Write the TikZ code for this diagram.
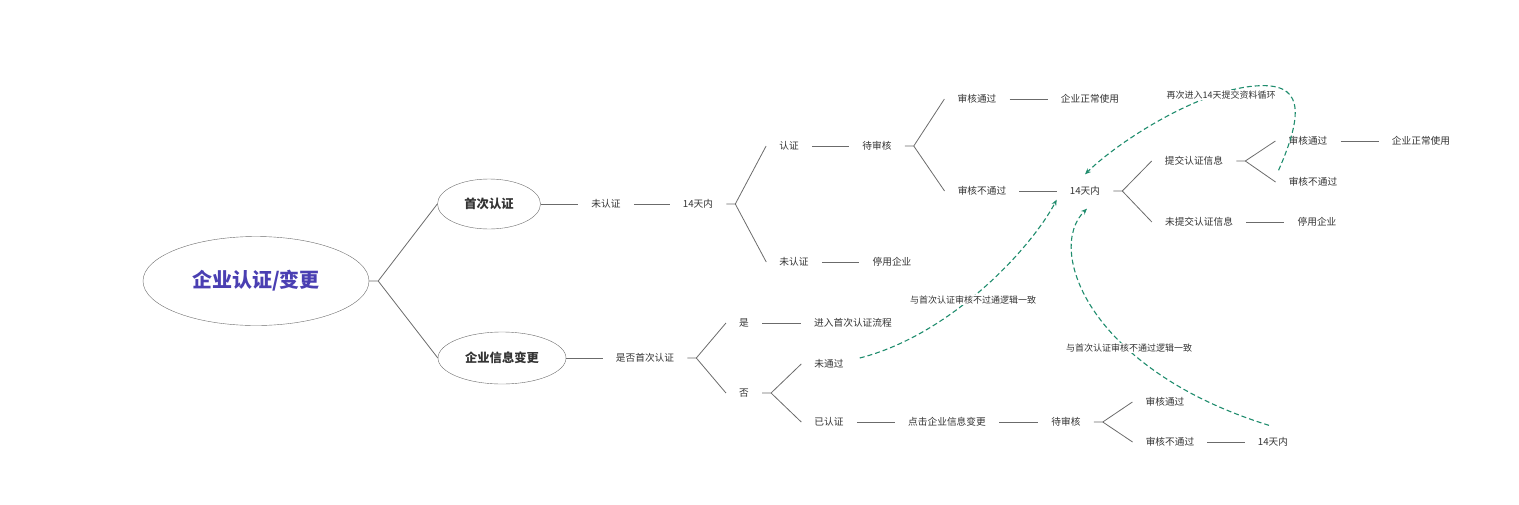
\documentclass[tikz,border=0pt]{standalone}
\usepackage{fontspec}
\setmainfont{Noto Sans CJK SC}
\usetikzlibrary{shapes.geometric, arrows.meta}
\definecolor{edge}{HTML}{6B6B6B}
\definecolor{ink}{HTML}{333333}
\definecolor{flow}{HTML}{1F8C6D}
\definecolor{title}{HTML}{4A3FB2}
\begin{document}
\begin{tikzpicture}[x=1pt, y=-1pt,
    txt/.style={inner xsep=13pt, inner ysep=3pt, text=ink, font=\fontsize{9.7}{11}\selectfont},
    topic/.style={draw=edge, ellipse, inner sep=0pt, text=ink, font=\fontsize{12.3}{14}\selectfont\bfseries},
    tie/.style={draw=edge, line width=0.8pt},
    back/.style={draw=flow, line width=1.1pt, dash pattern=on 5pt off 3pt, -{Stealth[length=6pt, width=5pt]}},
    remark/.style={fill=white, inner sep=1pt, text=ink, font=\fontsize{9}{10}\selectfont}]
    \useasboundingbox (0,0) rectangle (1519,504);
    \node[topic, minimum width=226pt, minimum height=89pt, text=title, font=\fontsize{20}{24}\selectfont\bfseries] (root) at (256,281) {企业认证/变更};
    \node[topic, minimum width=103pt, minimum height=50pt] (first) at (489,204) {首次认证};
    \node[topic, minimum width=128pt, minimum height=52pt] (change) at (502,358) {企业信息变更};
    \node[txt] (a1) at (606,204) {未认证};
    \node[txt] (a2) at (698,204) {14天内};
    \node[txt] (b1) at (789,146) {认证};
    \node[txt] (b2) at (877,146) {待审核};
    \node[txt] (b3) at (794,262) {未认证};
    \node[txt] (b4) at (892,262) {停用企业};
    \node[txt] (c1) at (977,99) {审核通过};
    \node[txt] (c2) at (1090,99) {企业正常使用};
    \node[txt] (c3) at (982,191) {审核不通过};
    \node[txt] (c4) at (1085,191) {14天内};
    \node[txt] (d1) at (1194,161) {提交认证信息};
    \node[txt] (d2) at (1199,222) {未提交认证信息};
    \node[txt] (d3) at (1317,222) {停用企业};
    \node[txt] (e1) at (1308,141) {审核通过};
    \node[txt] (e2) at (1421,141) {企业正常使用};
    \node[txt] (e3) at (1313,182) {审核不通过};
    \node[txt] (g1) at (645,358) {是否首次认证};
    \node[txt] (h1) at (744,323) {是};
    \node[txt] (h2) at (853,323) {进入首次认证流程};
    \node[txt] (h3) at (744,393) {否};
    \node[txt] (i1) at (829,364) {未通过};
    \node[txt] (i2) at (829,422) {已认证};
    \node[txt] (i3) at (947,422) {点击企业信息变更};
    \node[txt] (i4) at (1066,422) {待审核};
    \node[txt] (j1) at (1165,402) {审核通过};
    \node[txt] (j2) at (1170,442) {审核不通过};
    \node[txt] (j3) at (1273,442) {14天内};
    \draw[tie] (root.east) -- ++(9,0) coordinate (f0) -- (first.west);
    \draw[tie] (f0) -- (change.west);
    \draw[tie] (first.east) -- (a1.west);
    \draw[tie] (a1.east) -- (a2.west);
    \draw[tie] (a2.east) -- ++(9,0) coordinate (f1) -- (b1.west);
    \draw[tie] (f1) -- (b3.west);
    \draw[tie] (b1.east) -- (b2.west);
    \draw[tie] (b3.east) -- (b4.west);
    \draw[tie] (b2.east) -- ++(9,0) coordinate (f2) -- (c1.west);
    \draw[tie] (f2) -- (c3.west);
    \draw[tie] (c1.east) -- (c2.west);
    \draw[tie] (c3.east) -- (c4.west);
    \draw[tie] (c4.east) -- ++(9,0) coordinate (f3) -- (d1.west);
    \draw[tie] (f3) -- (d2.west);
    \draw[tie] (d2.east) -- (d3.west);
    \draw[tie] (d1.east) -- ++(9,0) coordinate (f4) -- (e1.west);
    \draw[tie] (f4) -- (e3.west);
    \draw[tie] (e1.east) -- (e2.west);
    \draw[tie] (change.east) -- (g1.west);
    \draw[tie] (g1.east) -- ++(9,0) coordinate (f5) -- (h1.west);
    \draw[tie] (f5) -- (h3.west);
    \draw[tie] (h1.east) -- (h2.west);
    \draw[tie] (h3.east) -- ++(9,0) coordinate (f6) -- (i1.west);
    \draw[tie] (f6) -- (i2.west);
    \draw[tie] (i2.east) -- (i3.west);
    \draw[tie] (i3.east) -- (i4.west);
    \draw[tie] (i4.east) -- ++(9,0) coordinate (f7) -- (j1.west);
    \draw[tie] (f7) -- (j2.west);
    \draw[tie] (j2.east) -- (j3.west);
    \draw[back] ([xshift=3pt, yshift=4pt]e3.north west) .. controls (1305,110) and (1302,82) .. (1255,86) .. controls (1200,90) and (1120,140) .. ([yshift=9pt]c4.north);
    \draw[back] ([xshift=3pt, yshift=6pt]i1.east) .. controls (950,335) and (1030,250) .. ([yshift=-1pt]c4.south west);
    \draw[back] ([xshift=-4pt, yshift=9pt]j3.north) .. controls (1090,370) and (1045,250) .. ([xshift=2pt, yshift=-10pt]c4.south);
    \node[remark] (r1) at (1221,95) {再次进入14天提交资料循环};
    \node[remark] (r2) at (973,300) {与首次认证审核不过通逻辑一致};
    \node[remark] (r3) at (1129,348) {与首次认证审核不通过逻辑一致};
\end{tikzpicture}
\end{document}
